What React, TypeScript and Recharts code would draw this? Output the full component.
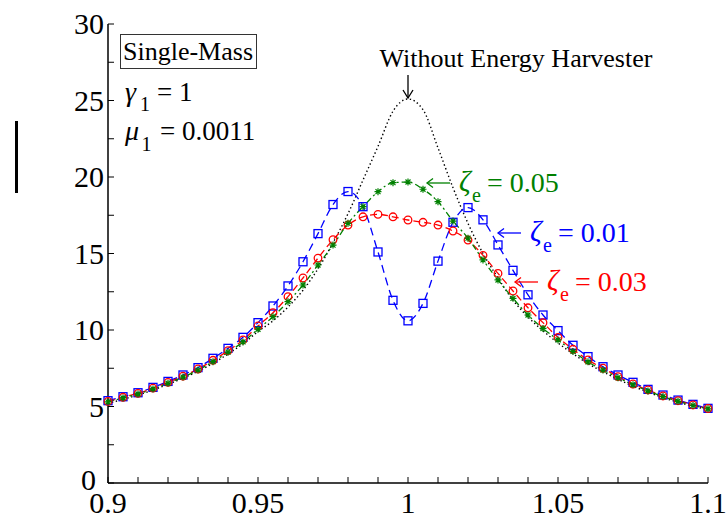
import { LineChart, Line, XAxis, YAxis } from "recharts";

const freqRatio = [
  0.9, 0.905, 0.91, 0.915, 0.92, 0.925, 0.93, 0.935, 0.94, 0.945, 0.95, 0.955, 0.96, 0.965,
  0.97, 0.975, 0.98, 0.985, 0.99, 0.995, 1, 1.005, 1.01, 1.015, 1.02, 1.025, 1.03, 1.035,
  1.04, 1.045, 1.05, 1.055, 1.06, 1.065, 1.07, 1.075, 1.08, 1.085, 1.09, 1.095, 1.1,
];

// without energy harvester (black dotted)
const withoutHarvester = [
  5.2, 5.47, 5.75, 6.08, 6.45, 6.85, 7.3, 7.83, 8.43, 9.1, 9.9, 10.6, 11.5, 12.6, 14.0, 15.7,
  17.6, 19.8, 22.0, 24.3, 25.1, 24.4, 21.9, 19.3, 16.97, 15.0, 13.4, 11.95, 10.85, 9.95, 9.15,
  8.45, 7.8, 7.27, 6.78, 6.33, 5.94, 5.58, 5.28, 5.02, 4.8,
];

// zeta_e = 0.01 (blue squares)
const zeta001 = [
  5.38, 5.64, 5.9, 6.25, 6.64, 7.06, 7.54, 8.15, 8.8, 9.52, 10.48, 11.57, 12.88, 14.46, 16.3,
  18.2, 19.05, 18.06, 15.1, 11.94, 10.6, 11.74, 14.5, 17.04, 18.0, 17.2, 15.56, 13.9, 12.3,
  10.98, 9.96, 9.0, 8.26, 7.6, 7.06, 6.58, 6.12, 5.75, 5.42, 5.14, 4.88,
];

// zeta_e = 0.03 (red circles)
const zeta003 = [
  5.33, 5.6, 5.86, 6.2, 6.58, 6.98, 7.45, 8.02, 8.65, 9.35, 10.26, 11.13, 12.18, 13.4, 14.7,
  15.9, 16.86, 17.4, 17.56, 17.4, 17.19, 17.04, 16.86, 16.47, 15.88, 14.88, 13.7, 12.55, 11.45,
  10.48, 9.52, 8.74, 8.04, 7.5, 6.95, 6.47, 6.08, 5.69, 5.38, 5.1, 4.87,
];

// zeta_e = 0.05 (green stars)
const zeta005 = [
  5.3, 5.56, 5.82, 6.15, 6.52, 6.92, 7.38, 7.93, 8.55, 9.22, 10.05, 10.87, 11.85, 12.94, 14.25,
  15.55, 16.97, 18.06, 19.04, 19.63, 19.67, 19.2, 18.39, 17.12, 16.0, 14.58, 13.27, 12.07,
  10.98, 10.1, 9.35, 8.6, 7.92, 7.38, 6.88, 6.42, 6.02, 5.65, 5.34, 5.07, 4.85,
];

const xTicks = [
  0.9, 0.91, 0.92, 0.93, 0.94, 0.95, 0.96, 0.97, 0.98, 0.99, 1, 1.01, 1.02, 1.03, 1.04, 1.05,
  1.06, 1.07, 1.08, 1.09, 1.1,
];
const xLabels = [0.9, 0.95, 1, 1.05, 1.1];
const yTicks = [0, 2.5, 5, 7.5, 10, 12.5, 15, 17.5, 20, 22.5, 25, 27.5, 30];
const yLabels = [0, 5, 10, 15, 20, 25, 30];

const FONT = "'Liberation Serif', 'Times New Roman', serif";
const BLUE = "#0000ff";
const RED = "#ff0000";
const GREEN = "#008000";

const rows = freqRatio.map((x, i) => ({
  x,
  base: withoutHarvester[i],
  z1: zeta001[i],
  z3: zeta003[i],
  z5: zeta005[i],
}));

const has = (list: number[], v: number) => list.some((l) => Math.abs(l - v) < 1e-9);

function BottomTick({ x, y, payload }: any) {
  const v = payload.value;
  return (
    <g>
      <line x1={x} y1={y} x2={x} y2={y - 6} stroke="#000" strokeWidth={1} />
      {has(xLabels, v) && (
        <text x={x} y={y + 30} textAnchor="middle" fontSize={30} fontFamily={FONT} fill="#000">
          {String(v)}
        </text>
      )}
    </g>
  );
}

function TopTick({ x, y }: any) {
  return <line x1={x} y1={y} x2={x} y2={y + 6} stroke="#000" strokeWidth={1} />;
}

function LeftTick({ x, y, payload }: any) {
  const v = payload.value;
  // the zero label sits a bit further left (and up) in the original, clear of "0.9"
  const zero = Math.abs(v) < 1e-9;
  return (
    <g>
      <line x1={x} y1={y} x2={x + 6} y2={y} stroke="#000" strokeWidth={1} />
      {has(yLabels, v) && (
        <text
          x={zero ? x - 12 : x - 4}
          y={zero ? y + 7 : y + 10}
          textAnchor="end"
          fontSize={30}
          fontFamily={FONT}
          fill="#000"
        >
          {String(v)}
        </text>
      )}
    </g>
  );
}

function RightTick({ x, y }: any) {
  return <line x1={x} y1={y} x2={x - 6} y2={y} stroke="#000" strokeWidth={1} />;
}

const squareDot = ({ cx, cy, index }: any) => (
  <rect key={`s${index}`} x={cx - 4} y={cy - 4} width={8} height={8} fill="none" stroke={BLUE} strokeWidth={1.3} />
);

const circleDot = ({ cx, cy, index }: any) => (
  <circle key={`c${index}`} cx={cx} cy={cy} r={3.8} fill="none" stroke={RED} strokeWidth={1.3} />
);

const starDot = ({ cx, cy, index }: any) => (
  <path
    key={`a${index}`}
    d={`M${cx - 3.5},${cy}H${cx + 3.5}M${cx},${cy - 3.5}V${cy + 3.5}M${cx - 2.5},${cy - 2.5}L${cx + 2.5},${cy + 2.5}M${cx - 2.5},${cy + 2.5}L${cx + 2.5},${cy - 2.5}`}
    stroke={GREEN}
    strokeWidth={1.2}
    fill="none"
  />
);

function Zeta({ x, y, value, color }: { x: number; y: number; value: string; color: string }) {
  return (
    <g fill={color} fontFamily={FONT}>
      <line x1={x - 32} y1={y - 9} x2={x - 9} y2={y - 9} stroke={color} strokeWidth={1.3} />
      <polyline
        points={`${x - 26},${y - 13.5} ${x - 32},${y - 9} ${x - 26},${y - 4.5}`}
        fill="none"
        stroke={color}
        strokeWidth={1.3}
      />
      <text x={x} y={y - 1} fontSize={29} fontStyle="italic">ζ</text>
      <text x={x + 13} y={y + 10} fontSize={20}>e</text>
      <text x={x + 28} y={y} fontSize={28}>= {value}</text>
    </g>
  );
}

export default function App() {
  return (
    <div style={{ position: "absolute", left: 0, top: 0, width: 726, height: 521, background: "#fff" }}>
      <LineChart width={726} height={521} data={rows} margin={{ top: 24, right: 18, bottom: 0, left: 0 }}>
        <XAxis
          xAxisId="b"
          type="number"
          dataKey="x"
          domain={[0.9, 1.1]}
          ticks={xTicks}
          interval={0}
          height={38}
          tickSize={0}
          tickMargin={0}
          tickLine={false}
          axisLine={{ stroke: "#000", strokeWidth: 1.5 }}
          tick={<BottomTick />}
        />
        <XAxis
          xAxisId="t"
          orientation="top"
          type="number"
          dataKey="x"
          domain={[0.9, 1.1]}
          ticks={xTicks}
          interval={0}
          height={0}
          tickSize={0}
          tickMargin={0}
          tickLine={false}
          axisLine={{ stroke: "#000", strokeWidth: 1.5 }}
          tick={<TopTick />}
        />
        <YAxis
          yAxisId="l"
          type="number"
          domain={[0, 30]}
          ticks={yTicks}
          interval={0}
          width={108}
          tickSize={0}
          tickMargin={0}
          tickLine={false}
          axisLine={{ stroke: "#000", strokeWidth: 1.5 }}
          tick={<LeftTick />}
        />
        <YAxis
          yAxisId="r"
          orientation="right"
          type="number"
          domain={[0, 30]}
          ticks={yTicks}
          interval={0}
          width={0}
          tickSize={0}
          tickMargin={0}
          tickLine={false}
          axisLine={{ stroke: "#000", strokeWidth: 1.5 }}
          tick={<RightTick />}
        />
        <Line
          xAxisId="b"
          yAxisId="l"
          type="monotone"
          dataKey="base"
          stroke="#000"
          strokeWidth={1.4}
          strokeDasharray="1.4 2.6"
          dot={false}
          isAnimationActive={false}
        />
        <Line
          xAxisId="b"
          yAxisId="l"
          type="monotone"
          dataKey="z1"
          stroke={BLUE}
          strokeWidth={1.3}
          strokeDasharray="8 5"
          dot={squareDot}
          isAnimationActive={false}
        />
        <Line
          xAxisId="b"
          yAxisId="l"
          type="monotone"
          dataKey="z3"
          stroke={RED}
          strokeWidth={1.3}
          strokeDasharray="7 4"
          dot={circleDot}
          isAnimationActive={false}
        />
        <Line
          xAxisId="b"
          yAxisId="l"
          type="monotone"
          dataKey="z5"
          stroke={GREEN}
          strokeWidth={1.3}
          strokeDasharray="6 3 2 3"
          dot={starDot}
          isAnimationActive={false}
        />
      </LineChart>
      <svg
        width={726}
        height={521}
        style={{ position: "absolute", left: 0, top: 0, pointerEvents: "none" }}
        fontFamily={FONT}
      >
        <rect x={15} y={121} width={3} height={72} fill="#000" />
        <rect x={120.5} y={34.5} width={136} height={34} fill="#fff" stroke="#333" strokeWidth={1} />
        <text x={123} y={60} fontSize={26} fill="#000">Single-Mass</text>
        <text x={125} y={101} fontSize={28} fontStyle="italic">γ</text>
        <text x={140} y={111} fontSize={20}>1</text>
        <text x={157} y={101} fontSize={27}>= 1</text>
        <text x={125} y={140} fontSize={28} fontStyle="italic">μ</text>
        <text x={141.5} y={151} fontSize={20}>1</text>
        <text x={160} y={140} fontSize={27}>= 0.0011</text>
        <text x={516} y={66.5} fontSize={26} textAnchor="middle">Without Energy Harvester</text>
        <line x1={408} y1={75} x2={408} y2={98} stroke="#000" strokeWidth={1.3} />
        <polyline points="403,90 408,98 413,90" fill="none" stroke="#000" strokeWidth={1.3} />
        <Zeta x={459} y={192} value="0.05" color={GREEN} />
        <Zeta x={530} y={242} value="0.01" color={BLUE} />
        <Zeta x={547} y={291} value="0.03" color={RED} />
      </svg>
    </div>
  );
}
